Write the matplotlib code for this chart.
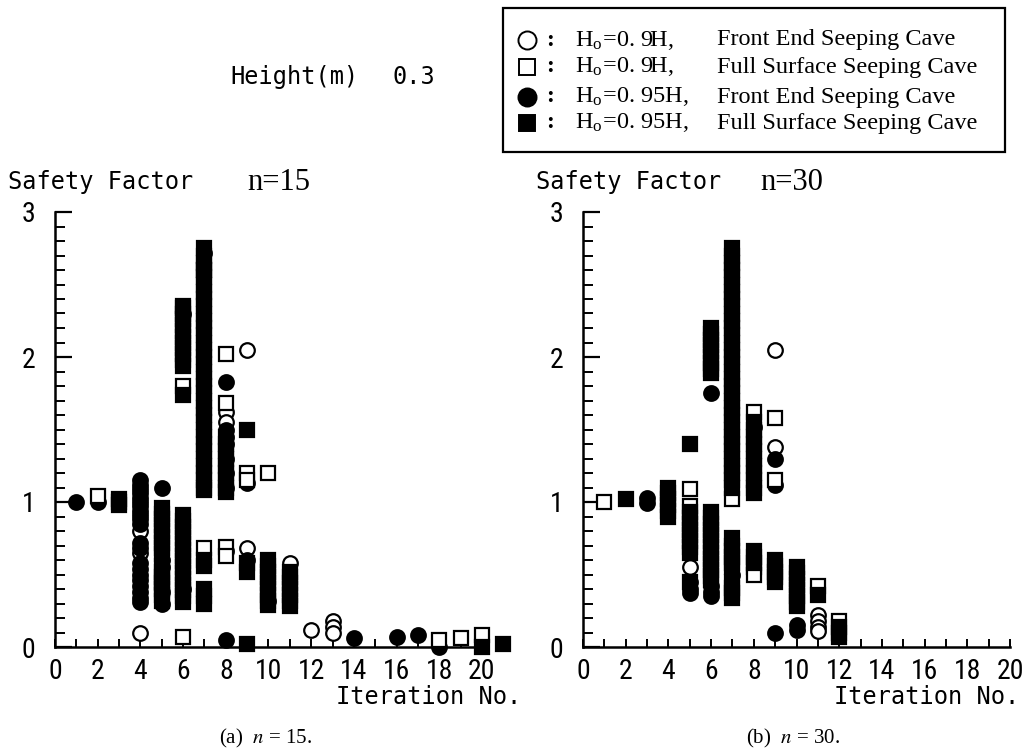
import matplotlib
matplotlib.use("Agg")
import matplotlib.pyplot as plt
from matplotlib.lines import Line2D
from matplotlib.patches import Rectangle
from matplotlib.ticker import MultipleLocator

plt.rcParams["mathtext.fontset"] = "stix"
SANS = ["Roboto Condensed", "Liberation Sans Narrow", "DejaVu Sans"]
MONO = ["DejaVu Sans Mono"]
SERIF = ["Liberation Serif", "DejaVu Serif"]

# n=15 : iteration no. -> safety factors
n15_oc_it = [4, 5, 6, 7, 8, 9, 10, 11, 12, 13]
n15_oc_val = [[0.8, 0.65, 0.1], [0.6, 0.55, 0.38], [2.3, 0.4], [2.72],
              [1.62, 1.55, 0.66], [2.05, 0.68], [0.32], [0.58], [0.12],
              [0.18, 0.14, 0.1]]
n15_os_it = [2, 5, 6, 7, 8, 9, 10, 18, 19, 20]
n15_os_val = [[1.04], [0.45], [2.35, 1.8, 0.07], [2.6, 0.68],
              [2.02, 1.68, 0.69, 0.63], [1.2, 1.15], [1.2], [0.05], [0.06], [0.08]]
n15_fc_it = [1, 2, 4, 5, 8, 9, 14, 16, 17, 18]
n15_fc_val = [[1.0], [1.0],
              [1.15, 1.12, 1.09, 1.06, 1.03, 1.0, 0.97, 0.94, 0.91, 0.88, 0.85,
               0.72, 0.68, 0.58, 0.54, 0.5, 0.46, 0.42, 0.38, 0.34, 0.31],
              [1.1, 0.3], [1.83, 1.5, 1.45, 1.4, 1.3, 1.2, 1.1, 0.05],
              [1.13, 0.6], [0.06], [0.07], [0.08], [0.0]]
n15_fs_it = [3, 5, 6, 6, 7, 7, 8, 9, 10, 11, 20, 21]
n15_fs_val = [[0.98, 1.0, 1.02],
              [0.96, 0.92, 0.88, 0.84, 0.8, 0.76, 0.72, 0.68, 0.64, 0.56, 0.52,
               0.48, 0.44, 0.4, 0.36, 0.32],
              [2.34, 2.3, 2.26, 2.22, 2.18, 2.14, 2.1, 2.06, 2.02, 1.98, 1.94, 1.74],
              [0.91, 0.87, 0.83, 0.79, 0.75, 0.71, 0.67, 0.63, 0.59, 0.55, 0.51,
               0.47, 0.43, 0.39, 0.35, 0.31],
              [2.75, 2.7, 2.65, 2.6, 2.55, 2.5, 2.45, 2.4, 2.35, 2.3, 2.25, 2.2,
               2.15, 2.1, 2.05, 2.0, 1.95, 1.9, 1.85, 1.8, 1.75, 1.7, 1.65, 1.6,
               1.55, 1.5, 1.45, 1.4, 1.35, 1.3, 1.25, 1.2, 1.15, 1.1, 1.08],
              [0.6, 0.56, 0.4, 0.35, 0.3],
              [1.45, 1.4, 1.35, 1.3, 1.25, 1.2, 1.15, 1.1, 1.07],
              [1.5, 0.58, 0.52, 0.02],
              [0.6, 0.56, 0.52, 0.48, 0.44, 0.4, 0.36, 0.32, 0.29],
              [0.52, 0.48, 0.44, 0.4, 0.36, 0.32, 0.28],
              [0.0], [0.02]]

# n=30
n30_oc_it = [5, 6, 7, 9, 11]
n30_oc_val = [[0.55], [0.42], [0.5], [2.05, 1.38], [0.22, 0.18, 0.14, 0.11]]
n30_os_it = [1, 5, 7, 8, 9, 11, 12]
n30_os_val = [[1.0], [1.09, 0.97], [1.02, 0.7, 0.62], [1.62, 0.55, 0.5],
              [1.58, 1.15], [0.42], [0.18]]
n30_fc_it = [3, 5, 6, 8, 9, 10]
n30_fc_val = [[1.03, 0.99], [0.45, 0.4, 0.37], [1.75, 0.38, 0.35], [1.52],
              [1.3, 1.12, 0.1], [0.15, 0.12]]
n30_fs_it = [2, 4, 5, 5, 6, 6, 7, 7, 8, 8, 9, 10, 11, 12]
n30_fs_val = [[1.02],
              [1.1, 1.06, 1.02, 0.98, 0.94, 0.9],
              [1.4],
              [0.93, 0.89, 0.85, 0.81, 0.77, 0.73, 0.69, 0.65, 0.45],
              [2.2, 2.16, 2.12, 2.08, 2.04, 2.0, 1.96, 1.92, 1.89],
              [0.93, 0.89, 0.85, 0.81, 0.77, 0.73, 0.69, 0.65, 0.61, 0.57,
               0.53, 0.49, 0.46],
              [2.75, 2.7, 2.65, 2.6, 2.55, 2.5, 2.45, 2.4, 2.35, 2.3, 2.25, 2.2,
               2.15, 2.1, 2.05, 2.0, 1.95, 1.9, 1.85, 1.8, 1.75, 1.7, 1.65, 1.6,
               1.55, 1.5, 1.45, 1.4, 1.35, 1.3, 1.25, 1.2, 1.15, 1.1],
              [0.75, 0.66, 0.58, 0.55, 0.45, 0.41, 0.37, 0.34],
              [1.55, 1.5, 1.45, 1.4, 1.35, 1.3, 1.25, 1.2, 1.15, 1.1, 1.06],
              [0.66, 0.62, 0.58],
              [0.6, 0.56, 0.52, 0.48, 0.45],
              [0.55, 0.51, 0.47, 0.43, 0.39, 0.35, 0.31, 0.28],
              [0.36],
              [0.14, 0.1, 0.07]]

legend_h0 = ["H$_{\\mathregular{o}}$=0. 9H,", "H$_{\\mathregular{o}}$=0. 9H,",
             "H$_{\\mathregular{o}}$=0. 95H,", "H$_{\\mathregular{o}}$=0. 95H,"]
legend_case = ["Front End Seeping Cave", "Full Surface Seeping Cave",
               "Front End Seeping Cave", "Full Surface Seeping Cave"]
styles = [("o", "white"), ("s", "white"), ("o", "black"), ("s", "black")]

W, H = 1024, 748


def px(x, y):
    return x / W, 1 - y / H


def flat(its, vals):
    xs, ys = [], []
    for it, v in zip(its, vals):
        xs += [it] * len(v)
        ys += v
    return xs, ys


def panel(rect, xmax, series):
    ax = fig.add_axes(rect)
    # draw order: open circle, filled circle, open square, filled square
    for k in [0, 2, 1, 3]:
        xs, ys = flat(*series[k])
        m, fc = styles[k]
        ax.plot(xs, ys, ls="none", marker=m, ms=10.5 if m == "o" else 10,
                mfc=fc, mec="black", mew=1.6, clip_on=False, zorder=3)
    ax.set_xlim(0, xmax)
    ax.set_ylim(0, 3)
    for s in ["top", "right"]:
        ax.spines[s].set_visible(False)
    for s in ["left", "bottom"]:
        ax.spines[s].set_linewidth(1.8)
    ax.yaxis.set_major_locator(MultipleLocator(1))
    ax.yaxis.set_minor_locator(MultipleLocator(0.1))
    ax.xaxis.set_major_locator(MultipleLocator(2))
    ax.xaxis.set_minor_locator(MultipleLocator(1))
    ax.tick_params(axis="y", which="major", direction="in", length=12, width=1.6, pad=14)
    ax.tick_params(axis="y", which="minor", direction="in", length=7, width=1.4)
    ax.tick_params(axis="x", which="both", direction="in", length=6, width=1.4, pad=8)
    for lab in ax.get_xticklabels() + ax.get_yticklabels():
        lab.set_family(SANS)
        lab.set_fontsize(20)
    return ax


fig = plt.figure(figsize=(10.24, 7.48), dpi=100)

ax1 = panel([55 / W, 101 / H, 433.4 / W, 435 / H], 20.3,
            [(n15_oc_it, n15_oc_val), (n15_os_it, n15_os_val),
             (n15_fc_it, n15_fc_val), (n15_fs_it, n15_fs_val)])
ax2 = panel([583 / W, 101 / H, 427 / W, 435 / H], 20,
            [(n30_oc_it, n30_oc_val), (n30_os_it, n30_os_val),
             (n30_fc_it, n30_fc_val), (n30_fs_it, n30_fs_val)])
# the right panel closes its axis with a longer tick at 20
ax2.xaxis.get_major_ticks()[-1].tick1line.set_markersize(13)

# panel titles and axis names
fig.text(*px(8, 182), "Safety Factor", family=MONO, fontsize=17, va="center")
fig.text(*px(247, 182), "n=15", family=SERIF, fontsize=22, va="center")
fig.text(*px(536, 182), "Safety Factor", family=MONO, fontsize=17, va="center")
fig.text(*px(760, 182), "n=30", family=SERIF, fontsize=22, va="center")
fig.text(*px(521, 697), "Iteration No.", family=MONO, fontsize=17, ha="right", va="center")
fig.text(*px(1019, 697), "Iteration No.", family=MONO, fontsize=17, ha="right", va="center")
fig.text(*px(266, 738), "(a)  $n$ = 15.", family=SERIF, fontsize=15, ha="center", va="center")
fig.text(*px(793, 738), "(b)  $n$ = 30.", family=SERIF, fontsize=15, ha="center", va="center")

fig.text(*px(230, 77), "Height(m)", family=MONO, fontsize=17, va="center")
fig.text(*px(393, 77), "0.3", family=MONO, fontsize=17, va="center")

# legend box
fig.add_artist(Rectangle(px(503, 152), 502 / W, 144 / H, transform=fig.transFigure,
                         fill=False, lw=1.6, ec="black"))
rows = [40, 67, 97, 123]
for (m, fc), h0, case, y in zip(styles, legend_h0, legend_case, rows):
    fig.add_artist(Line2D([527 / W], [1 - y / H], transform=fig.transFigure,
                          marker=m, ms=13 if m == "o" else 12, mfc=fc, mec="black", mew=1.4))
    fig.text(*px(546, y), ":", family=SERIF, fontsize=17, va="center", weight="bold")
    fig.text(*px(575, y), h0, family=SERIF, fontsize=17.5, va="center")
    fig.text(*px(717, y), case, family=SERIF, fontsize=17.5, va="center")

fig.savefig("out.png", dpi=100)
